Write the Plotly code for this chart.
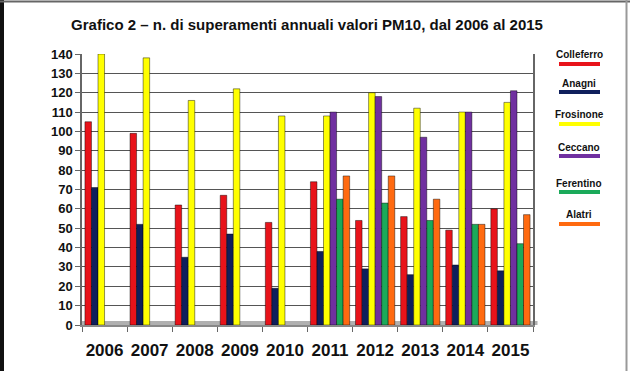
import plotly.graph_objects as go

years = ['2006', '2007', '2008', '2009', '2010', '2011', '2012', '2013', '2014', '2015']
colleferro = [105, 99, 62, 67, 53, 74, 54, 56, 49, 60]
anagni = [71, 52, 35, 47, 19, 38, 29, 26, 31, 28]
frosinone = [140, 138, 116, 122, 108, 108, 120, 112, 110, 115]
ceccano = [None, None, None, None, None, 110, 118, 97, 110, 121]
ferentino = [None, None, None, None, None, 65, 63, 54, 52, 42]
alatri = [None, None, None, None, None, 77, 77, 65, 52, 57]

names = ['Colleferro', 'Anagni', 'Frosinone', 'Ceccano', 'Ferentino', 'Alatri']
series = [colleferro, anagni, frosinone, ceccano, ferentino, alatri]
colors = ['#E8131A', '#0F1F5C', '#FFFF00', '#7030A0', '#1BAA5A', '#FF6A10']
y_ticks = list(range(0, 141, 10))

title_text = 'Grafico 2 \u2013 n. di superamenti annuali valori PM10, dal 2006 al 2015'

FONT = 'Liberation Sans, Arial, sans-serif'

fig = go.Figure()
for name, vals, col in zip(names, series, colors):
    fig.add_trace(go.Bar(
        x=years, y=vals, name=name,
        marker=dict(color=col, line=dict(color='rgba(0,0,0,0.55)', width=0.8)),
    ))

W, H = 630, 371
L, R, T, B = 82, 97, 54, 46
pw = W - L - R
ph = H - T - B

def px_x(p):
    return (p - L) / pw

def px_y(p):
    return (H - B - p) / ph

shapes = []
annotations = []

# legend built from names/colors
leg_text_y = [55, 83, 115, 147, 183, 215]
for i, (name, col) in enumerate(zip(names, colors)):
    ty = leg_text_y[i]
    annotations.append(dict(
        text='<b>' + name + '</b>', x=px_x(579), y=px_y(ty), xref='paper', yref='paper',
        showarrow=False, xanchor='center', yanchor='middle',
        font=dict(family=FONT, size=10, color='#111')))
    shapes.append(dict(type='line', xref='paper', yref='paper',
                       x0=px_x(559), x1=px_x(600), y0=px_y(ty + 9), y1=px_y(ty + 9),
                       line=dict(color=col, width=4)))

# outer frame
shapes.append(dict(type='line', xref='paper', yref='paper',
                   x0=px_x(2), x1=px_x(2), y0=px_y(0), y1=px_y(H),
                   line=dict(color='#111', width=4)))
shapes.append(dict(type='line', xref='paper', yref='paper',
                   x0=px_x(0), x1=px_x(W), y0=px_y(1.5), y1=px_y(1.5),
                   line=dict(color='#666', width=2)))
shapes.append(dict(type='line', xref='paper', yref='paper',
                   x0=px_x(626.5), x1=px_x(626.5), y0=px_y(0), y1=px_y(H),
                   line=dict(color='#999', width=2)))

# 3D floor band
shapes.append(dict(type='rect', xref='paper', yref='paper', layer='below',
                   x0=0, x1=1.01, y0=0, y1=px_y(321),
                   line=dict(width=0), fillcolor='#B0B0B0'))

fig.update_layout(
    width=W, height=H,
    margin=dict(l=L, r=R, t=T, b=B, pad=0),
    paper_bgcolor='white', plot_bgcolor='white',
    showlegend=False,
    barmode='group', bargap=0.13, bargroupgap=0,
    title=dict(text='<b>' + title_text + '</b>', x=307 / W, xanchor='center',
               y=1 - 25 / H, yanchor='middle',
               font=dict(family=FONT, size=15, color='#111')),
    font=dict(family=FONT),
    shapes=shapes,
    annotations=annotations,
)
fig.update_xaxes(
    type='category', tickson='boundaries', ticks='outside', ticklen=5,
    tickcolor='#666', showline=True, linecolor='#888', linewidth=1.5,
    showgrid=False, ticklabelstandoff=9, tickangle=0,
    tickfont=dict(family=FONT, size=17, color='#111', weight='bold'),
)
fig.update_yaxes(
    range=[0, 140], tickvals=y_ticks, ticktext=[str(v) for v in y_ticks],
    ticks='outside', ticklen=5, tickcolor='#666',
    showline=True, linecolor='#666', linewidth=1.5, mirror=True,
    showgrid=True, gridcolor='#555', gridwidth=1.3, zeroline=False,
    tickfont=dict(family=FONT, size=13, color='#111', weight='bold'),
)

fig.write_html('out.html',
               config={'displayModeBar': False},
               post_script="document.body.style.margin='0';document.body.style.overflow='hidden';")
